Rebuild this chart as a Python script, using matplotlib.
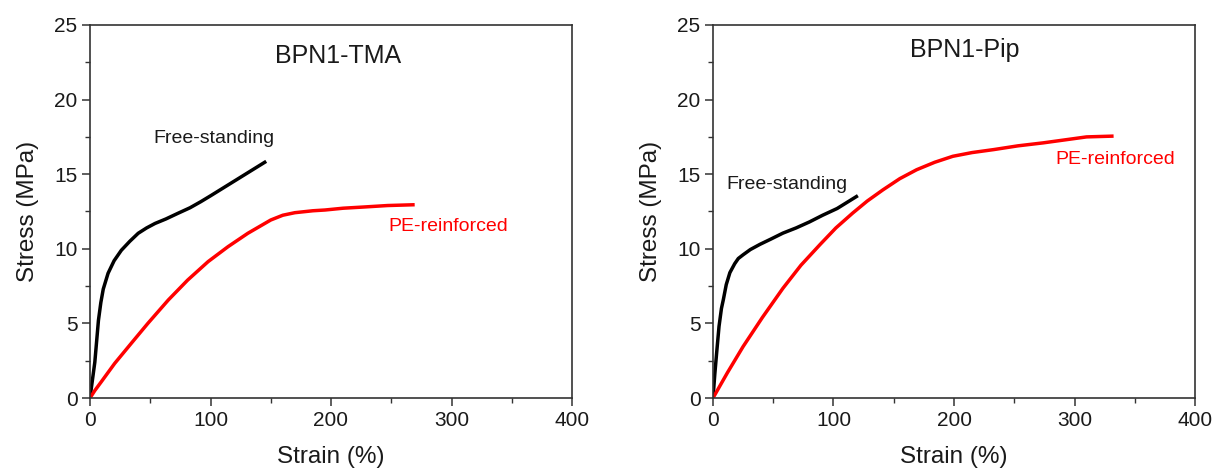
import matplotlib
matplotlib.use("Agg")
import matplotlib.pyplot as plt
from matplotlib.ticker import MultipleLocator

plt.rcParams["font.family"] = ["Liberation Sans", "DejaVu Sans"]

# BPN1-TMA
tma_free_strain = [0, 2, 4, 5.5, 7, 9, 11, 15, 20, 26, 33, 40, 47, 54, 63, 73, 83, 92, 100, 110, 120, 133, 145]
tma_free_stress = [0, 1.2, 2.4, 3.8, 5.2, 6.4, 7.3, 8.36, 9.2, 9.9, 10.5, 11.04, 11.4, 11.7, 12.0, 12.38, 12.75, 13.16, 13.55, 14.05, 14.55, 15.2, 15.8]
tma_pe_strain = [0, 4, 9.4, 20.5, 34.3, 48, 65, 81, 98, 114.5, 131, 150, 160, 170, 185, 195, 210, 227, 247, 268]
tma_pe_stress = [0, 0.5, 1.09, 2.32, 3.67, 5.0, 6.57, 7.9, 9.14, 10.14, 11.04, 11.93, 12.25, 12.42, 12.55, 12.6, 12.72, 12.8, 12.9, 12.95]

# BPN1-Pip
pip_free_strain = [0, 1.5, 3, 5, 7, 8.6, 11, 14, 18, 21, 25, 31, 39, 48, 58, 69, 80, 91, 103, 111, 119]
pip_free_stress = [0, 1.6, 3.0, 4.8, 6.0, 6.6, 7.6, 8.4, 9.0, 9.35, 9.6, 9.95, 10.3, 10.65, 11.05, 11.4, 11.8, 12.25, 12.7, 13.1, 13.5]
pip_pe_strain = [0, 12, 25, 41, 58, 73, 89, 102, 116, 128, 141, 155, 169, 184, 199, 215, 233, 253, 274, 292, 310, 331]
pip_pe_stress = [0, 1.7, 3.45, 5.4, 7.35, 8.9, 10.3, 11.4, 12.4, 13.2, 13.95, 14.7, 15.3, 15.8, 16.2, 16.45, 16.65, 16.9, 17.1, 17.3, 17.5, 17.55]

panels = [
    ("BPN1-TMA", tma_free_strain, tma_free_stress, tma_pe_strain, tma_pe_stress,
     (206, 22.9), (103, 17.4), (297.5, 11.5)),
    ("BPN1-Pip", pip_free_strain, pip_free_stress, pip_pe_strain, pip_pe_stress,
     (208.7, 23.3), (61.4, 14.3), (334, 16.0)),
]

TEXT = "#1a1a1a"

fig = plt.figure(figsize=(12.14, 4.69), dpi=100)
lefts = [90 / 1214, 713 / 1214]

for left, (title, fx, fy, px, py, title_xy, free_xy, pe_xy) in zip(lefts, panels):
    ax = fig.add_axes([left, 71 / 469, 482 / 1214, 373 / 469])
    ax.plot(fx, fy, color="black", lw=2.5)
    ax.plot(px, py, color="#ff0000", lw=2.5)

    ax.set_xlim(0, 400)
    ax.set_ylim(0, 25)
    ax.xaxis.set_major_locator(MultipleLocator(100))
    ax.xaxis.set_minor_locator(MultipleLocator(50))
    ax.yaxis.set_major_locator(MultipleLocator(5))
    ax.yaxis.set_minor_locator(MultipleLocator(2.5))
    ax.tick_params(which="major", direction="out", length=6, width=1.1,
                   labelsize=15, labelcolor=TEXT, color="#333333", pad=3)
    ax.tick_params(which="minor", direction="out", length=3.5, width=1.0, color="#333333")
    for spine in ax.spines.values():
        spine.set_linewidth(1.2)
        spine.set_color("#333333")

    ax.set_xlabel("Strain (%)", fontsize=17.5, color=TEXT, labelpad=12)
    ax.set_ylabel("Stress (MPa)", fontsize=17.5, color=TEXT, labelpad=11)

    ax.text(*title_xy, title, fontsize=18, color=TEXT, ha="center", va="center")
    ax.text(*free_xy, "Free-standing", fontsize=14, color=TEXT, ha="center", va="center")
    ax.text(*pe_xy, "PE-reinforced", fontsize=14, color="#ff0000", ha="center", va="center")

fig.savefig("out.png", dpi=100)
